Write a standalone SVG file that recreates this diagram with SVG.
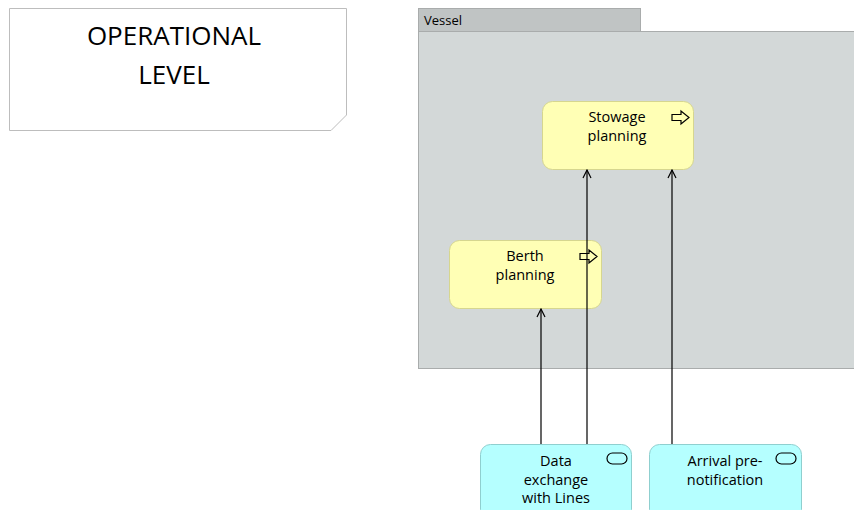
<svg xmlns="http://www.w3.org/2000/svg" width="854" height="510" viewBox="0 0 854 510">
<style>
text{font-family:"Open Sans","Liberation Sans",sans-serif;fill:#000;text-anchor:middle}
.lbl{font-size:14.5px}
.big{font-size:26px}
.proc{fill:#ffffb5;stroke:#d6d68f;stroke-width:1}
.svc{fill:#b5ffff;stroke:#8fcfcf;stroke-width:1}
.icon{fill:none;stroke:#000;stroke-width:1.2}
.conn{stroke:#000;stroke-width:1.2;fill:none}
</style>
<defs>
<marker id="arr" markerWidth="10" markerHeight="10" refX="9" refY="5" orient="auto" markerUnits="userSpaceOnUse">
<path d="M1,1 L9,5 L1,9" fill="none" stroke="#000" stroke-width="1.2"/>
</marker>
</defs>
<g id="note">
<path d="M9.5,8.5 H346.5 V115 L331,130.5 H9.5 Z" fill="#fff" stroke="#bdbdbd"/>
<text class="big" x="174" y="45">OPERATIONAL</text>
<text class="big" x="174" y="84">LEVEL</text>
</g>
<g id="vessel">
<rect x="418.5" y="8.5" width="222" height="23" fill="#c0c4c4" stroke="#a9acac"/>
<rect x="418.5" y="31.5" width="440" height="337" fill="#d3d8d8" stroke="#a9acac"/>
<text x="424" y="25" style="font-size:13px;text-anchor:start">Vessel</text>
</g>
<g id="stowage">
<rect class="proc" x="542.5" y="101.5" width="151" height="68" rx="10"/>
<path class="icon" d="M672,114.5 H681 V111 L689,117.5 L681,124 V120.5 H672 Z"/>
<text class="lbl" x="617" y="122">Stowage</text>
<text class="lbl" x="617" y="141">planning</text>
</g>
<g id="berth">
<rect class="proc" x="449.5" y="240.5" width="152" height="68" rx="10"/>
<path class="icon" d="M580,253.5 H589 V250 L597,256.5 L589,263 V259.5 H580 Z"/>
<text class="lbl" x="525" y="261">Berth</text>
<text class="lbl" x="525" y="280">planning</text>
</g>
<g id="dataexchange">
<rect class="svc" x="480.5" y="444.5" width="151" height="75" rx="10"/>
<rect class="icon" x="607" y="453" width="20" height="11" rx="5.5"/>
<text class="lbl" x="556" y="466">Data</text>
<text class="lbl" x="556" y="485">exchange</text>
<text class="lbl" x="556" y="503">with Lines</text>
</g>
<g id="arrival">
<rect class="svc" x="649.5" y="444.5" width="152" height="75" rx="10"/>
<rect class="icon" x="776" y="453" width="20" height="11" rx="5.5"/>
<text class="lbl" x="725" y="466">Arrival pre-</text>
<text class="lbl" x="725" y="485">notification</text>
</g>
<g id="connectors">
<line class="conn" x1="541" y1="444" x2="541" y2="309" marker-end="url(#arr)"/>
<line class="conn" x1="587" y1="444" x2="587" y2="170" marker-end="url(#arr)"/>
<line class="conn" x1="672" y1="444" x2="672" y2="170" marker-end="url(#arr)"/>
</g>
</svg>
